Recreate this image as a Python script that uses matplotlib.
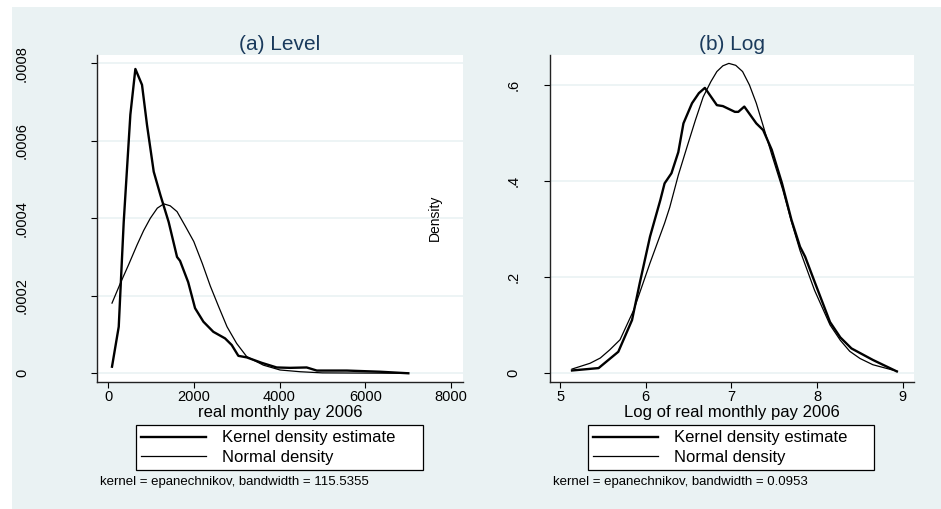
import matplotlib.pyplot as plt

plt.rcParams['font.family'] = ['Liberation Sans', 'DejaVu Sans']

# panel (a): level of pay
lvl_kde_x = [93, 250, 366, 521, 638, 793, 910, 1066, 1221, 1415, 1610, 1680, 1870,
             2030, 2225, 2456, 2730, 2885, 3040, 3235, 3584, 3934, 4245, 4634,
             4870, 5570, 6345, 7005]
lvl_kde_y = [0.000017, 0.00012, 0.00039, 0.000667, 0.000785, 0.000744, 0.00064,
             0.00052, 0.00046, 0.00039, 0.00030, 0.00029, 0.000235, 0.000168,
             0.000133, 0.000107, 0.00009, 0.000073, 0.000045, 0.000041, 0.000027,
             0.000015, 0.000014, 0.000015, 0.000007, 0.000007, 0.000004, 0.0]
lvl_norm_x = [93, 287, 480, 677, 830, 987, 1150, 1300, 1450, 1610, 1800, 2000, 2200,
              2386, 2580, 2776, 3000, 3235, 3623, 4012, 4479, 5000, 7005]
lvl_norm_y = [0.000181, 0.000232, 0.00028, 0.000331, 0.000368, 0.0004, 0.000426,
              0.000437, 0.000432, 0.000417, 0.00038, 0.00034, 0.000283,
              0.000225, 0.000172, 0.00012, 0.000077, 0.000043, 0.000021, 0.0000085,
              0.000004, 0.000001, 0.0]

# panel (b): log of pay
log_kde_x = [5.14, 5.45, 5.68, 5.84, 5.93, 6.05, 6.17, 6.22, 6.30, 6.38, 6.44, 6.54,
             6.62, 6.69, 6.83, 6.90, 7.04, 7.08, 7.15, 7.29, 7.37, 7.47, 7.59, 7.70,
             7.80, 7.86, 7.97, 8.15, 8.27, 8.40, 8.65, 8.93]
log_kde_y = [0.005, 0.01, 0.044, 0.110, 0.187, 0.284, 0.36, 0.395, 0.416, 0.46,
             0.52, 0.562, 0.583, 0.594, 0.558, 0.556, 0.544, 0.544, 0.555, 0.52,
             0.506, 0.465, 0.395, 0.319, 0.263, 0.242, 0.19, 0.106, 0.074, 0.051,
             0.027, 0.003]
log_norm_x = [5.14, 5.35, 5.47, 5.58, 5.70, 5.86, 6.05, 6.22, 6.28, 6.38, 6.48, 6.58,
              6.67, 6.76, 6.83, 6.90, 6.97, 7.05, 7.13, 7.21, 7.29, 7.37, 7.47, 7.60,
              7.70, 7.80, 7.97, 8.15, 8.27, 8.38, 8.50, 8.65, 8.88, 8.93]
log_norm_y = [0.008, 0.02, 0.031, 0.048, 0.069, 0.131, 0.229, 0.312, 0.345, 0.412,
              0.47, 0.527, 0.575, 0.607, 0.628, 0.640, 0.645, 0.641, 0.628, 0.600,
              0.562, 0.515, 0.455, 0.381, 0.315, 0.255, 0.172, 0.10, 0.068, 0.045,
              0.030, 0.017, 0.006, 0.004]

lvl_xticks = [0, 2000, 4000, 6000, 8000]
lvl_yticks = [0, 0.0002, 0.0004, 0.0006, 0.0008]
lvl_ylabels = ['0', '.0002', '.0004', '.0006', '.0008']
log_xticks = [5, 6, 7, 8, 9]
log_yticks = [0, 0.2, 0.4, 0.6]
log_ylabels = ['0', '.2', '.4', '.6']

bg = '#eaf2f3'
navy = '#1a3a5c'
W, H = 941, 509

fig = plt.figure(figsize=(W / 100, H / 100), dpi=100)
fig.patch.set_facecolor(bg)
# thin white strips at left and top, as in the exported graph
fig.patches.append(plt.Rectangle((0, 0), 12 / W, 1, transform=fig.transFigure,
                                 facecolor='white', edgecolor='none', zorder=-5))
fig.patches.append(plt.Rectangle((0, 1 - 7 / H), 1, 7 / H, transform=fig.transFigure,
                                 facecolor='white', edgecolor='none', zorder=-5))


def px_axes(x0, x1, y0, y1):
    return fig.add_axes([x0 / W, 1 - y1 / H, (x1 - x0) / W, (y1 - y0) / H])


def style(ax, xticks, yticks, ylabels, ypad):
    ax.set_facecolor('white')
    for s in ['top', 'right']:
        ax.spines[s].set_visible(False)
    for s in ['left', 'bottom']:
        ax.spines[s].set_color('#222222')
        ax.spines[s].set_linewidth(1.0)
    ax.set_xticks(xticks)
    ax.set_yticks(yticks)
    ax.set_yticklabels(ylabels)
    ax.tick_params(axis='x', length=4, width=0.8, pad=2, labelsize=10.5)
    ax.tick_params(axis='y', length=4, width=0.8, pad=ypad, labelsize=10.5,
                   labelrotation=90)
    for lab in ax.get_yticklabels():
        lab.set_va('center')
    ax.grid(axis='y', color=bg, linewidth=1.2)
    ax.set_axisbelow(True)


panels = [
    dict(box=(97, 463), kx=lvl_kde_x, ky=lvl_kde_y, nx=lvl_norm_x, ny=lvl_norm_y,
         xlim=(-257, 8280), ylim=(-0.0000225, 0.000821), xt=lvl_xticks,
         yt=lvl_yticks, yl=lvl_ylabels, ypad=45, title='(a) Level',
         xlabel='real monthly pay 2006', note_x=100,
         note='kernel = epanechnikov, bandwidth = 115.5355', leg=(136, 423)),
    dict(box=(550, 914), kx=log_kde_x, ky=log_kde_y, nx=log_norm_x, ny=log_norm_y,
         xlim=(4.883, 9.13), ylim=(-0.019, 0.6625), xt=log_xticks,
         yt=log_yticks, yl=log_ylabels, ypad=17, title='(b) Log',
         xlabel='Log of real monthly pay 2006', note_x=553,
         note='kernel = epanechnikov, bandwidth = 0.0953', leg=(588, 874)),
]

for p in panels:
    x0, x1 = p['box']
    ax = px_axes(x0, x1, 55, 382)
    k, = ax.plot(p['kx'], p['ky'], color='black', lw=1.7)
    n, = ax.plot(p['nx'], p['ny'], color='black', lw=0.9)
    ax.set_xlim(*p['xlim'])
    ax.set_ylim(*p['ylim'])
    style(ax, p['xt'], p['yt'], p['yl'], p['ypad'])
    cx = (x0 + x1) / 2
    fig.text(cx / W, 1 - 44 / H, p['title'], ha='center', va='center',
             fontsize=15, color=navy)
    fig.text(cx / W, 1 - 412 / H, p['xlabel'], ha='center', va='center',
             fontsize=12)
    fig.text(p['note_x'] / W, 1 - 482 / H, p['note'], ha='left', va='center',
             fontsize=9.5)
    lx0, lx1 = p['leg']
    leg = ax.legend([k, n], ['Kernel density estimate', 'Normal density'],
                    bbox_to_anchor=(lx0 / W, 1 - 470 / H, (lx1 - lx0) / W, 45 / H),
                    bbox_transform=fig.transFigure, loc='center', mode='expand',
                    fontsize=12, handlelength=3.9, handletextpad=0.95,
                    borderpad=0.3, labelspacing=0.25, fancybox=False,
                    framealpha=1, edgecolor='black', borderaxespad=0)
    leg.get_frame().set_linewidth(0.9)

fig.text(435 / W, 1 - 218 / H, 'Density', rotation=90, ha='center', va='center',
         fontsize=10)

fig.savefig('out.png', dpi=100, facecolor=bg)
